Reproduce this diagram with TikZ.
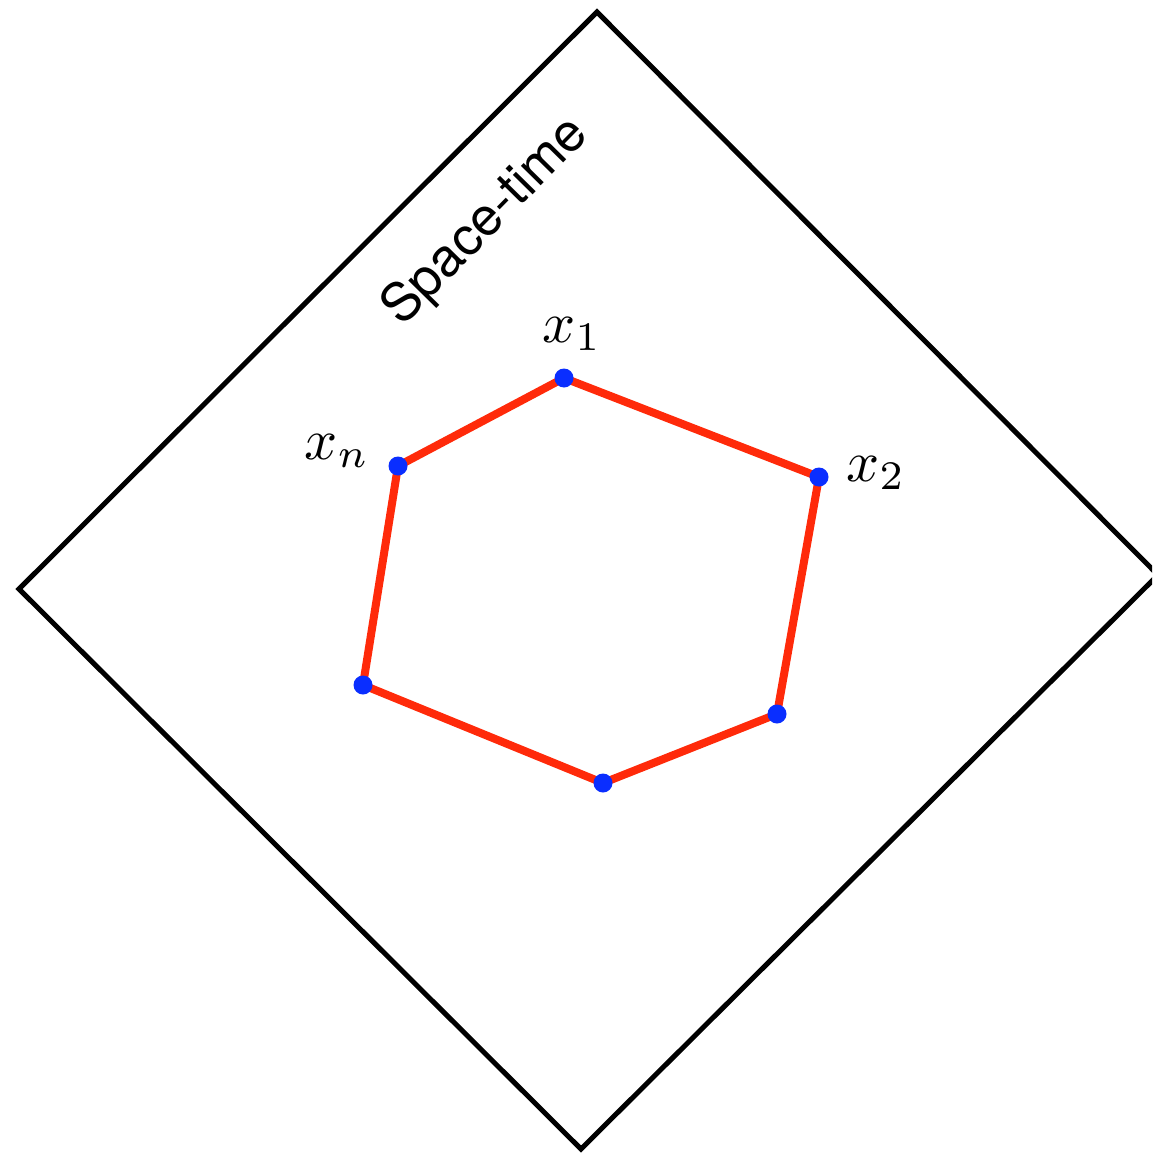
\documentclass[tikz,border=0pt]{standalone}
\usepackage{fontspec}
\setsansfont{TeX Gyre Heros}
\definecolor{hexred}{HTML}{FF2A0A}
\definecolor{dotblue}{HTML}{0A2EFF}
\begin{document}
\begin{tikzpicture}[x=1pt,y=-1pt,
  frame/.style={draw=black,line width=5pt,line join=miter},
  edge/.style={draw=hexred,line width=8pt},
  pt/.style={circle,fill=dotblue,inner sep=0pt,minimum size=19pt},
  lab/.style={scale=5.8}]
\useasboundingbox (0,0) rectangle (1152,1153);
\clip (0,0) rectangle (1152,1153);
\coordinate (T) at (597,12);
\coordinate (R) at (1158,575);
\coordinate (B) at (581,1149);
\coordinate (L) at (19,589);
\draw[frame] (T) -- (R) -- (B) -- (L) -- cycle;
\node[font=\sffamily\fontsize{53}{56}\selectfont,rotate=45.5] (st) at (486,222) {Space-time};
\coordinate (p1) at (564,378);
\coordinate (p2) at (819,477);
\coordinate (p3) at (777,714);
\coordinate (p4) at (603,783);
\coordinate (p5) at (363,685);
\coordinate (p6) at (398,466);
\draw[edge,line join=round] (p1) -- (p2) -- (p3) -- (p4) -- (p5) -- (p6) -- cycle;
\foreach \p in {p1,p2,p3,p4,p5,p6} \node[pt] at (\p) {};
\node[lab] (l1) at (572,334) {$x_1$};
\node[lab] (l2) at (876,473) {$x_2$};
\node[lab] (ln) at (337,451) {$x_n$};
\end{tikzpicture}
\end{document}
